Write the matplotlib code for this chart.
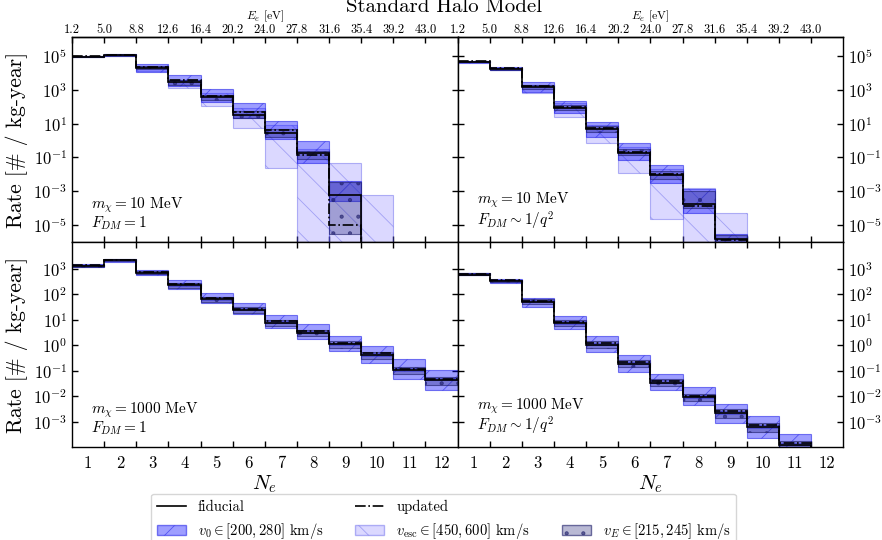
import matplotlib
matplotlib.use("Agg")
import matplotlib.pyplot as plt
import numpy as np
from matplotlib.lines import Line2D
from matplotlib.patches import Patch

plt.rcParams.update({
    "font.family": ["cmr10", "DejaVu Serif"],
    "mathtext.fontset": "cm",
    "axes.formatter.use_mathtext": True,
    "axes.unicode_minus": False,
    "axes.linewidth": 1.0,
    "hatch.linewidth": 0.6,
})

N_BINS = np.arange(1, 13)
EDGES = np.arange(0.5, 13.0, 1.0)
E_LABELS = ["1.2", "5.0", "8.8", "12.6", "16.4", "20.2", "24.0", "27.8",
            "31.6", "35.4", "39.2", "43.0"]
NAN = np.nan
LOW = 1e-12   # off-scale (below axis)
DEEP = 1e-8   # band running off the bottom of the panel

# ---- m_chi = 10 MeV, F_DM = 1 (top left)
fid_tl = [9.0e4, 1.1e5, 2.0e4, 2.8e3, 3.5e2, 3.2e1, 2.7, 1.8e-1, 6.3e-4, LOW, LOW, LOW]
upd_tl = [9.3e4, 1.17e5, 2.2e4, 3.5e3, 4.5e2, 5.0e1, 4.0, 1.4e-1, 1.0e-5, LOW, LOW, LOW]
v0_lo_tl = [8.0e4, 1.0e5, 1.15e4, 1.6e3, 2.0e2, 2.1e1, 1.2, 5.0e-2, 2.5e-4, NAN, NAN, NAN]
v0_hi_tl = [1.0e5, 1.3e5, 3.5e4, 7.2e3, 1.05e3, 1.6e2, 1.45e1, 9.5e-1, 4.0e-3, NAN, NAN, NAN]
esc_lo_tl = [8.3e4, 1.05e5, 1.26e4, 1.26e3, 1.1e2, 5.4, 2.3e-2, DEEP, DEEP, DEEP, NAN, NAN]
esc_hi_tl = [1.0e5, 1.26e5, 2.5e4, 4.0e3, 6.3e2, 8.0e1, 8.0, 3.0e-1, 4.7e-2, 6.3e-4, NAN, NAN]
ve_lo_tl = [8.5e4, 1.02e5, 1.7e4, 2.0e3, 2.5e2, 2.2e1, 1.6, 8.0e-2, 2.8e-6, NAN, NAN, NAN]
ve_hi_tl = [9.8e4, 1.2e5, 2.4e4, 3.6e3, 4.6e2, 5.5e1, 4.5, 2.5e-1, 3.5e-3, NAN, NAN, NAN]

# ---- m_chi = 10 MeV, F_DM ~ 1/q^2 (top right)
fid_tr = [4.5e4, 1.66e4, 1.4e3, 8.3e1, 4.5, 1.9e-1, 8.9e-3, 1.8e-4, 1.6e-6, LOW, LOW, LOW]
upd_tr = [4.7e4, 1.8e4, 1.6e3, 1.0e2, 5.2, 2.2e-1, 1.1e-2, 1.4e-4, 1.4e-6, LOW, LOW, LOW]
v0_lo_tr = [4.0e4, 1.4e4, 7.0e2, 4.0e1, 1.55, 7.2e-2, 3.1e-3, 4.9e-5, 6.3e-7, NAN, NAN, NAN]
v0_hi_tr = [5.2e4, 2.2e4, 2.7e3, 2.2e2, 1.3e1, 7.2e-1, 3.7e-2, 1.4e-3, 2.8e-6, NAN, NAN, NAN]
esc_lo_tr = [4.2e4, 1.5e4, 6.3e2, 2.3e1, 6.9e-1, 1.26e-2, 2.2e-5, DEEP, DEEP, NAN, NAN, NAN]
esc_hi_tr = [5.0e4, 2.0e4, 2.0e3, 1.6e2, 7.9, 4.0e-1, 2.0e-2, 1.66e-3, 4.9e-5, NAN, NAN, NAN]
ve_lo_tr = [4.3e4, 1.55e4, 1.1e3, 6.0e1, 3.0, 1.3e-1, 5.0e-3, 1.0e-4, 8.0e-7, NAN, NAN, NAN]
ve_hi_tr = [4.9e4, 1.95e4, 1.9e3, 1.3e2, 7.5, 3.0e-1, 1.6e-2, 1.0e-3, 2.5e-6, NAN, NAN, NAN]

# ---- m_chi = 1000 MeV, F_DM = 1 (bottom left)
fid_bl = [1.26e3, 2.1e3, 6.5e2, 2.2e2, 6.3e1, 2.4e1, 7.6, 3.1, 1.07, 4.2e-1, 1.07e-1, 4.4e-2]
upd_bl = [1.38e3, 2.2e3, 7.4e2, 2.6e2, 7.1e1, 2.7e1, 8.5, 3.5, 1.2, 4.7e-1, 1.2e-1, 4.9e-2]
v0_lo_bl = [1.12e3, 1.9e3, 5.6e2, 1.55e2, 4.3e1, 1.6e1, 4.7, 1.7, 5.8e-1, 2.0e-1, 4.9e-2, 1.7e-2]
v0_hi_bl = [1.45e3, 2.35e3, 8.9e2, 3.5e2, 1.1e2, 4.3e1, 1.5e1, 6.5, 2.2, 9.0e-1, 2.75e-1, 1.1e-1]
esc_lo_bl = [1.22e3, 2.05e3, 6.3e2, 2.1e2, 6.0e1, 2.3e1, 7.2, 2.9, 1.0, 3.9e-1, 1.0e-1, 4.1e-2]
esc_hi_bl = [1.42e3, 2.25e3, 7.6e2, 2.7e2, 7.4e1, 2.8e1, 8.9, 3.7, 1.26, 5.0e-1, 1.26e-1, 5.2e-2]
ve_lo_bl = [1.15e3, 1.95e3, 5.9e2, 1.8e2, 5.0e1, 1.9e1, 5.8, 2.3, 7.8e-1, 2.9e-1, 7.2e-2, 2.8e-2]
ve_hi_bl = [1.4e3, 2.3e3, 7.8e2, 2.8e2, 8.0e1, 3.0e1, 9.5, 4.0, 1.4, 5.5e-1, 1.4e-1, 5.8e-2]

# ---- m_chi = 1000 MeV, F_DM ~ 1/q^2 (bottom right)
fid_br = [5.75e2, 3.2e2, 5.0e1, 7.4, 1.05, 1.86e-1, 3.4e-2, 8.9e-3, 2.1e-3, 6.0e-4, 1.26e-4, LOW]
upd_br = [6.3e2, 3.5e2, 5.6e1, 8.3, 1.17, 2.1e-1, 3.9e-2, 1.02e-2, 2.5e-3, 7.1e-4, 1.4e-4, LOW]
v0_lo_br = [5.4e2, 2.8e2, 3.2e1, 4.2, 5.4e-1, 8.7e-2, 1.7e-2, 4.4e-3, 9.1e-4, 2.3e-4, 5.0e-5, NAN]
v0_hi_br = [6.8e2, 4.0e2, 7.2e1, 1.35e1, 2.2, 4.0e-1, 7.6e-2, 2.3e-2, 5.1e-3, 1.6e-3, 3.2e-4, NAN]
esc_lo_br = [5.6e2, 3.1e2, 4.8e1, 7.0, 1.0, 1.8e-1, 3.2e-2, 8.5e-3, 2.0e-3, 5.7e-4, 1.2e-4, NAN]
esc_hi_br = [6.5e2, 3.6e2, 5.8e1, 8.6, 1.22, 2.2e-1, 4.1e-2, 1.07e-2, 2.6e-3, 7.5e-4, 1.5e-4, NAN]
ve_lo_br = [5.5e2, 2.95e2, 4.0e1, 5.8, 7.8e-1, 1.35e-1, 2.5e-2, 6.3e-3, 1.45e-3, 4.0e-4, 8.5e-5, NAN]
ve_hi_br = [6.6e2, 3.7e2, 6.3e1, 9.8, 1.4, 2.6e-1, 4.8e-2, 1.25e-2, 3.0e-3, 8.8e-4, 1.8e-4, NAN]

PANELS = [
    (fid_tl, upd_tl, v0_lo_tl, v0_hi_tl, esc_lo_tl, esc_hi_tl, ve_lo_tl, ve_hi_tl,
     r"$m_\chi = 10$ MeV" + "\n" + r"$F_{DM} = 1$"),
    (fid_tr, upd_tr, v0_lo_tr, v0_hi_tr, esc_lo_tr, esc_hi_tr, ve_lo_tr, ve_hi_tr,
     r"$m_\chi = 10$ MeV" + "\n" + r"$F_{DM} \sim 1/q^2$"),
    (fid_bl, upd_bl, v0_lo_bl, v0_hi_bl, esc_lo_bl, esc_hi_bl, ve_lo_bl, ve_hi_bl,
     r"$m_\chi = 1000$ MeV" + "\n" + r"$F_{DM} = 1$"),
    (fid_br, upd_br, v0_lo_br, v0_hi_br, esc_lo_br, esc_hi_br, ve_lo_br, ve_hi_br,
     r"$m_\chi = 1000$ MeV" + "\n" + r"$F_{DM} \sim 1/q^2$"),
]

V0_STYLE = dict(facecolor=(0.0, 0.0, 1.0, 0.38), edgecolor=(0.1, 0.1, 0.9, 0.55), hatch="/")
ESC_STYLE = dict(facecolor=(0.3, 0.25, 1.0, 0.2), edgecolor=(0.3, 0.3, 0.9, 0.4), hatch="\\")
VE_STYLE = dict(facecolor=(0.1, 0.1, 0.45, 0.3), edgecolor=(0.1, 0.1, 0.4, 0.6), hatch=".")


def band(ax, lo, hi, style):
    lo = np.asarray(lo, dtype=float)
    hi = np.asarray(hi, dtype=float)
    ax.bar(N_BINS, hi - lo, bottom=lo, width=1.0, linewidth=0.8, **style, zorder=2)


fig, axes = plt.subplots(2, 2, figsize=(8.82, 5.4), dpi=100, sharex=True)
fig.subplots_adjust(left=0.0816, right=0.956, top=0.9315, bottom=0.172,
                    hspace=0.0, wspace=0.0)

for k, (ax, data) in enumerate(zip(axes.flat, PANELS)):
    fid, upd, v0_lo, v0_hi, esc_lo, esc_hi, ve_lo, ve_hi, note = data
    row, col = divmod(k, 2)
    band(ax, esc_lo, esc_hi, ESC_STYLE)
    band(ax, v0_lo, v0_hi, V0_STYLE)
    band(ax, ve_lo, ve_hi, VE_STYLE)
    ax.stairs(fid, EDGES, baseline=None, color="black", linewidth=1.2, zorder=4)
    ax.stairs(upd, EDGES, baseline=None, color="black", linewidth=1.2,
              linestyle="-.", zorder=4)

    ax.set_yscale("log")
    ax.set_xlim(0.5, 12.5)
    if row == 0:
        ax.set_ylim(1e-6, 1.3e6)
        ax.set_yticks([1e5, 1e3, 1e1, 1e-1, 1e-3, 1e-5])
    else:
        ax.set_ylim(1e-4, 1.1e4)
        ax.set_yticks([1e3, 1e2, 1e1, 1e0, 1e-1, 1e-2, 1e-3])
    ax.yaxis.set_minor_locator(matplotlib.ticker.NullLocator())

    ax.set_xticks(np.arange(1.5, 12.0, 1.0))
    ax.set_xticklabels([])
    ax.set_xticks(N_BINS, minor=True)
    ax.set_xticklabels([str(n) for n in N_BINS], minor=True)
    ax.tick_params(axis="x", which="minor", length=0, labelsize=12, pad=6)
    ax.tick_params(which="major", direction="in", length=4.5, width=1.0,
                   top=(row == 1), right=True, left=True, labelsize=12)
    if col == 1:
        ax.tick_params(axis="y", labelleft=False, labelright=True)
    else:
        ax.set_ylabel("Rate [# / kg-year]", fontsize=15.5, labelpad=4)
    if row == 1:
        ax.set_xlabel(r"$N_e$", fontsize=15, labelpad=2)
    else:
        ax.tick_params(axis="x", which="minor", labelbottom=False)
        top = ax.secondary_xaxis("top")
        top.set_xticks(EDGES[:-1])
        top.set_xticklabels(E_LABELS)
        top.tick_params(direction="in", length=4.5, width=1.0, labelsize=9, pad=1)
        top.set_xlabel(r"$E_e$ [eV]", fontsize=8.5, labelpad=3)

    ax.text(0.05, 0.05, note, transform=ax.transAxes, ha="left", va="bottom",
            fontsize=11, linespacing=0.95, zorder=5)

fig.text(0.503, 0.978, "Standard Halo Model", ha="center", va="baseline", fontsize=15)

handles = [
    Line2D([], [], color="black", linewidth=1.2),
    Patch(**V0_STYLE),
    Line2D([], [], color="black", linewidth=1.2, linestyle="-."),
    Patch(**ESC_STYLE),
    Line2D([], [], color="none"),
    Patch(**VE_STYLE),
]
labels = [
    "fiducial",
    r"$v_0 \in [200, 280]$ km/s",
    "updated",
    r"$v_{\rm esc} \in [450, 600]$ km/s",
    "",
    r"$v_E \in [215, 245]$ km/s",
]
fig.legend(handles, labels, ncol=3, loc="upper center",
           bbox_to_anchor=(0.503, 0.086), fontsize=10.5, frameon=True,
           borderpad=0.4, labelspacing=0.5, columnspacing=2.2, borderaxespad=0.0)

fig.savefig("out.png", dpi=100, facecolor="white")
